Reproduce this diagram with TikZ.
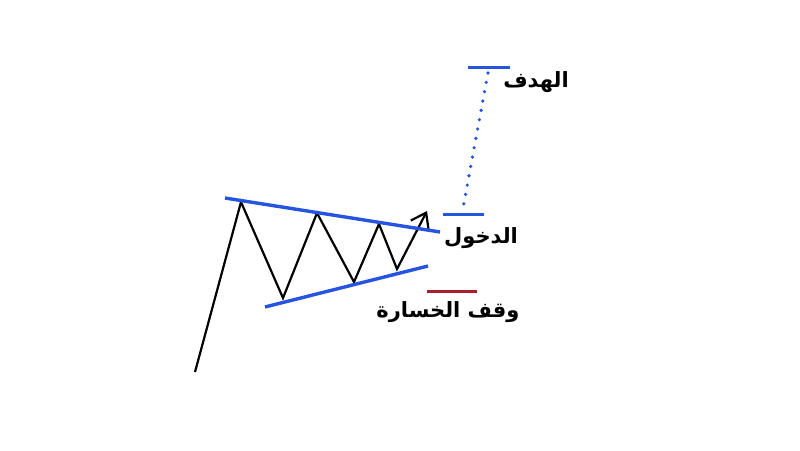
\documentclass[tikz,border=0pt]{standalone}
\usepackage{fontspec}
\usetikzlibrary{arrows.meta}
\TeXXeTstate=1
\newfontfamily\arabicfont[Script=Arabic]{DejaVu Sans}
\definecolor{trendblue}{RGB}{36,84,224}
\definecolor{stopred}{RGB}{168,30,44}

\begin{document}
\begin{tikzpicture}[x=1pt, y=-1pt, every node/.style={inner sep=0pt, font=\arabicfont\bfseries\fontsize{21}{24}\selectfont}]
  \useasboundingbox (0,0) rectangle (800,450);
  % zigzag price path
  \coordinate (p0) at (195,372);
  \coordinate (p1) at (241,202);
  \coordinate (p2) at (283,298);
  \coordinate (p3) at (317,213);
  \coordinate (p4) at (354,282);
  \coordinate (p5) at (379,224);
  \coordinate (p6) at (397,269);
  \coordinate (p7) at (427,211);
  \draw[line width=2.2pt, line join=miter, -{Straight Barb[length=14pt,width=20pt,line width=2.2pt]}] (p0) -- (p1) -- (p2) -- (p3) -- (p4) -- (p5) -- (p6) -- (p7);

  % triangle borders
  \coordinate (u1) at (225,198); \coordinate (u2) at (440,232);
  \coordinate (l1) at (265,307); \coordinate (l2) at (428,266);
  \draw[trendblue, line width=3.4pt] (u1) -- (u2);
  \draw[trendblue, line width=3.4pt] (l1) -- (l2);

  % levels
  \coordinate (t1) at (468,67); \coordinate (t2) at (510,67);
  \coordinate (e1) at (443,214); \coordinate (e2) at (484,214);
  \coordinate (s1) at (427,291); \coordinate (s2) at (477,291);
  \draw[trendblue, line width=3pt] (t1) -- (t2);
  \draw[trendblue, line width=3pt] (e1) -- (e2);
  \draw[stopred, line width=3pt] (s1) -- (s2);
  \coordinate (d1) at (488,73); \coordinate (d2) at (463,208);
  \draw[trendblue, line width=3.6pt, line cap=round, dash pattern=on 0pt off 9.5pt] (d1) -- (d2);

  \node (target) at (536,82) {\beginR الهدف\endR};
  \node (entry) at (481,238) {\beginR الدخول\endR};
  \node (stop) at (448,312) {\beginR وقف الخسارة\endR};
\end{tikzpicture}
\end{document}
